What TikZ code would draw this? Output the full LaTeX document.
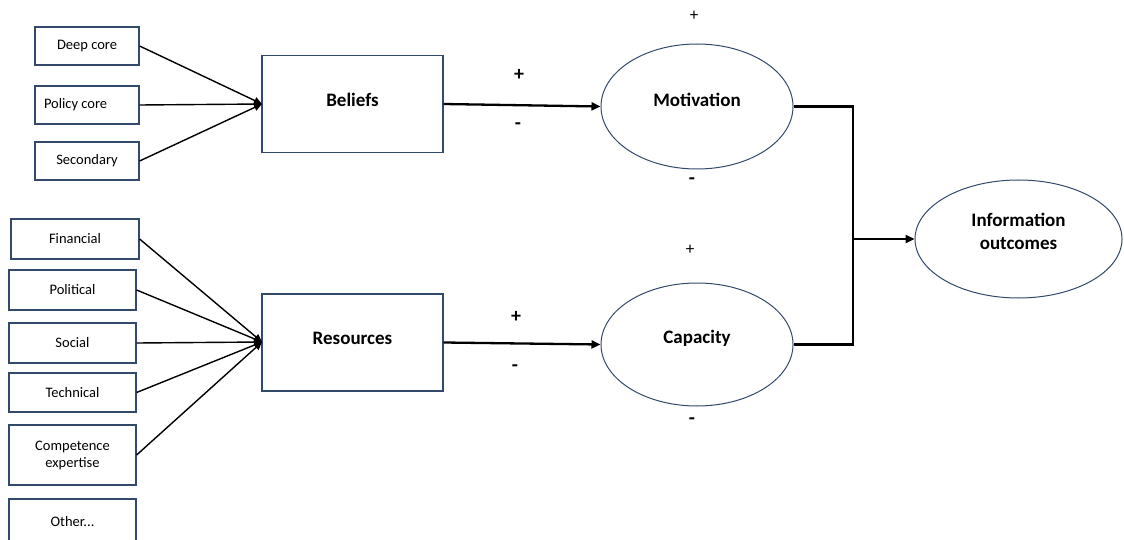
\documentclass[tikz,border=0pt]{standalone}
\usepackage{fontspec}
\setmainfont{Carlito}
\usetikzlibrary{arrows.meta,shapes.geometric}
\definecolor{boxblue}{HTML}{33496B}
\tikzset{
  smallbox/.style={draw=boxblue, line width=1.2pt, inner sep=0pt, font=\fontsize{14.5}{17}\selectfont, align=center},
  bigbox/.style={draw=boxblue, line width=1.2pt, inner sep=0pt, minimum width=181pt, minimum height=97pt, font=\bfseries\fontsize{19}{22}\selectfont},
  oval/.style={ellipse, draw=boxblue, line width=1pt, inner sep=0pt, font=\bfseries\fontsize{19}{21}\selectfont, align=center},
  feed/.style={line width=1.4pt, -{Triangle[length=8pt,width=7pt]}},
  mainarrow/.style={line width=2.3pt, -{Triangle[length=9pt,width=8pt]}},
  elbow/.style={line width=2.3pt},
  signbig/.style={font=\bfseries\fontsize{20}{22}\selectfont, inner sep=0pt},
  signsmall/.style={font=\fontsize{17}{19}\selectfont, inner sep=0pt}
}
\begin{document}
\begin{tikzpicture}[x=1pt,y=-1pt]
\useasboundingbox (0,0) rectangle (1124,540);
\clip (0,0) rectangle (1124,540);
% top-left inputs
\node[smallbox, minimum width=104pt, minimum height=38pt] (deep) at (87,46) {Deep core};
\node[smallbox, minimum width=104pt, minimum height=38pt] (policy) at (87,105) {\makebox[86pt][l]{Policy core}};
\node[smallbox, minimum width=104pt, minimum height=38pt] (second) at (87,161) {Secondary};
\node[bigbox] (beliefs) at (352.5,104) {\raisebox{-3pt}[0pt][0pt]{Beliefs}};
% bottom-left inputs
\node[smallbox, minimum width=128pt, minimum height=40pt] (fin) at (75,239) {Financial};
\node[smallbox, minimum width=127pt, minimum height=40pt] (pol) at (72.5,290) {Political};
\node[smallbox, minimum width=127pt, minimum height=40pt] (soc) at (72.5,343) {Social};
\node[smallbox, minimum width=127pt, minimum height=39pt] (tech) at (72.5,392.5) {Technical};
\node[smallbox, minimum width=127pt, minimum height=60pt] (comp) at (72.5,455) {Competence\\expertise};
\node[smallbox, minimum width=127pt, minimum height=46pt] (other) at (72.5,522) {Other...};
\node[bigbox] (res) at (352.5,342.5) {\raisebox{-2pt}[0pt][0pt]{Resources}};
% ellipses
\node[oval, minimum width=192pt, minimum height=125pt] (mot) at (697,106.5) {\smash{Motivation}};
\node[oval, minimum width=192pt, minimum height=123pt] (cap) at (697,344.5) {\raisebox{1.5pt}[0pt][0pt]{Capacity}};
\node[oval, minimum width=207pt, minimum height=118pt] (info) at (1018.5,239) {\raisebox{1pt}[0pt][0pt]{\begin{tabular}{c}Information\\[2pt]outcomes\end{tabular}}};
% feed lines
\coordinate (bin) at (262,104);
\coordinate (rin) at (262,342);
\draw[feed] (deep.east) -- (bin);
\draw[feed] (policy.east) -- (bin);
\draw[feed] (second.east) -- (bin);
\draw[feed] (fin.east) -- (rin);
\draw[feed] (pol.east) -- (rin);
\draw[feed] (soc.east) -- (rin);
\draw[feed] (tech.east) -- (rin);
\draw[feed] (comp.east) -- (rin);
% main arrows
\draw[mainarrow] (beliefs.east) -- (mot.west);
\draw[mainarrow] (res.east) -- (cap.west);
\coordinate (j) at (853,239);
\draw[elbow] (mot.east) -| (j) |- (cap.east);
\draw[mainarrow] (j) -- (info.west);
% signs
\node[signbig] (p1) at (519,75) {+};
\node[signbig] (m1) at (518,126) {-};
\node[signbig] (p2) at (516,317) {+};
\node[signbig] (m2) at (515,368) {-};
\node[signsmall] (p3) at (694,16) {+};
\node[signbig] (m3) at (692,181) {-};
\node[signsmall] (p4) at (690,250) {+};
\node[signbig] (m4) at (692,421) {-};
\end{tikzpicture}
\end{document}
